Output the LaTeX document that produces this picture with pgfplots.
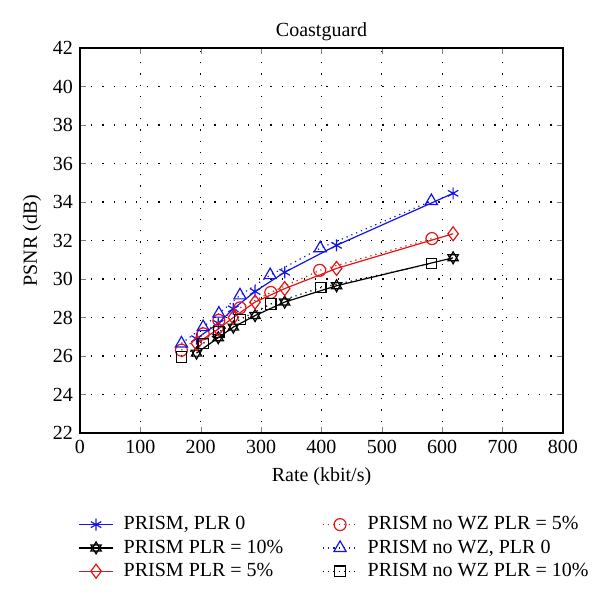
\documentclass[border=0pt]{standalone}
\usepackage{fontspec}
\setmainfont{Liberation Serif}
\usepackage{pgfplots}
\pgfplotsset{compat=1.18}
\usetikzlibrary{plotmarks}
\pgfdeclareplotmark{hexagram}{%
 \pgfpathmoveto{\pgfqpointpolar{90}{\pgfplotmarksize}}%
 \pgfpathlineto{\pgfqpointpolar{210}{\pgfplotmarksize}}%
 \pgfpathlineto{\pgfqpointpolar{330}{\pgfplotmarksize}}%
 \pgfpathclose
 \pgfpathmoveto{\pgfqpointpolar{270}{\pgfplotmarksize}}%
 \pgfpathlineto{\pgfqpointpolar{30}{\pgfplotmarksize}}%
 \pgfpathlineto{\pgfqpointpolar{150}{\pgfplotmarksize}}%
 \pgfpathclose
 \pgfusepathqstroke}
\definecolor{mblue}{RGB}{20,20,230}
\definecolor{mred}{RGB}{230,20,20}
\begin{document}
\begin{tikzpicture}
\begin{axis}[
  scale only axis,
  width=241.5pt, height=192.5pt,
  xmin=0, xmax=800, ymin=22, ymax=42,
  xtick={0,100,...,800}, ytick={22,24,...,42},
  tick align=inside,
  major tick length=3pt,
  grid=major,
  major grid style={black, line width=0.6pt, dash pattern=on 0.6pt off 5pt},
  axis line style={line width=0.6pt},
  title={Coastguard},
  title style={yshift=-6pt},
  xlabel={Rate (kbit/s)},
  ylabel={PSNR (dB)},
  ylabel style={yshift=-1pt},
  /pgf/number format/assume math mode=true,
  tick label style={font=\normalsize},
  legend columns=2,
  legend cell align=left,
  legend style={draw=none, fill=none, at={(0,-0.195)}, anchor=north west,
    xshift=-4pt,
    font=\normalsize, row sep=-0.5pt,
    /tikz/every odd column/.append style={column sep=3pt},
    /tikz/every even column/.append style={column sep=17.5pt}},
  every axis plot/.append style={line width=0.6pt, mark size=3pt},
]
\addplot[mblue, solid, mark=asterisk, mark options={solid}] coordinates {
 (193,26.9) (229,27.7) (254,28.45) (290,29.35) (339,30.35) (425,31.75) (618,34.45)};
\addlegendentry{PRISM, PLR 0}
\addplot[mred, dotted, mark=o, mark options={solid}] coordinates {
 (168,26.3) (204,27.15) (230,27.85) (265,28.5) (316,29.3) (397,30.45) (583,32.1)};
\addlegendentry{PRISM no WZ PLR = 5\%}
\addplot[black, solid, mark=hexagram, mark options={solid}] coordinates {
 (193,26.15) (229,26.95) (254,27.5) (290,28.1) (339,28.8) (425,29.65) (618,31.1)};
\addlegendentry{PRISM PLR = 10\%}
\addplot[mblue, dotted, mark=triangle, mark options={solid}, mark size=3.5pt] coordinates {
 (168,26.65) (204,27.5) (230,28.2) (265,29.15) (315,30.2) (398,31.6) (582,34.05)};
\addlegendentry{PRISM no WZ, PLR 0}
\addplot[mred, solid, mark=diamond, mark options={solid}, mark size=3.5pt] coordinates {
 (193,26.65) (229,27.4) (254,28.0) (290,28.8) (339,29.5) (425,30.55) (618,32.35)};
\addlegendentry{PRISM PLR = 5\%}
\addplot[black, dotted, mark=square, mark options={solid}, mark size=2.6pt] coordinates {
 (168,25.95) (204,26.65) (230,27.25) (265,27.9) (316,28.7) (399,29.55) (582,30.8)};
\addlegendentry{PRISM no WZ PLR = 10\%}
\end{axis}
\path (-40pt,-82.5pt) rectangle (260pt,216.5pt);
\end{tikzpicture}
\end{document}
